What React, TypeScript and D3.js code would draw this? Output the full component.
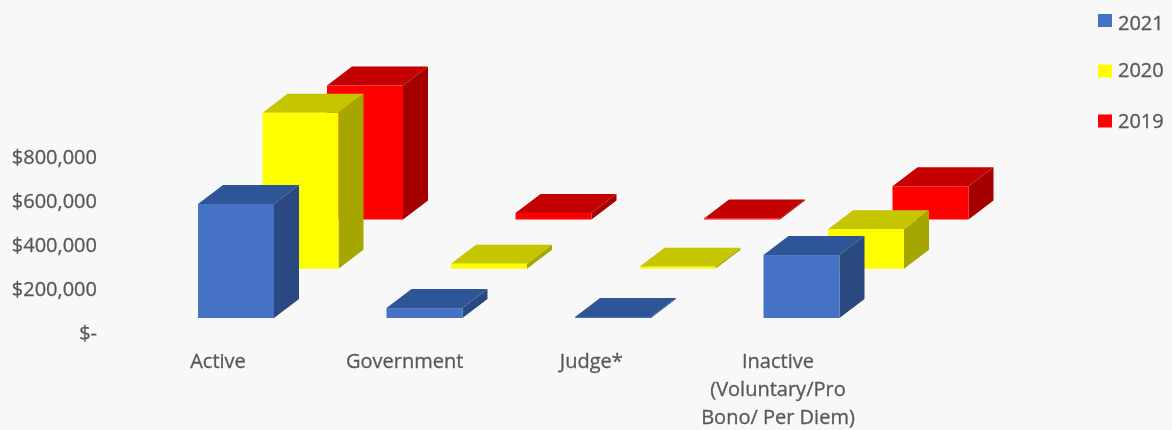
import React from "react";
import * as d3 from "d3";

const categories = ["Active", "Government", "Judge*", "Inactive"];
const categoryLabels = [["Active"], ["Government"], ["Judge*"], ["Inactive", "(Voluntary/Pro", "Bono/ Per Diem)"]];
const seriesNames = ["2019", "2020", "2021"];
const values2019 = [609000, 30000, 5000, 151000];
const values2020 = [709000, 23000, 9000, 180000];
const values2021 = [518000, 45000, 5000, 286000];
const seriesValues = [values2019, values2020, values2021];
const faceColors: Record<string, { front: string; top: string; side: string }> = {
  "2019": { front: "#ff0000", top: "#c40000", side: "#a40000" },
  "2020": { front: "#ffff00", top: "#c6c600", side: "#a6a600" },
  "2021": { front: "#4472c4", top: "#2f5597", side: "#2a4a80" },
};
const yTicks = [0, 200000, 400000, 600000, 800000];
const yTickLabels = ["$-", "$200,000", "$400,000", "$600,000", "$800,000"];
const legendOrder = ["2021", "2020", "2019"];
const legendCenters = [20.5, 71, 121];
const legendTextY = [23, 70, 121];

const W = 1172, H = 430;
const font = "'Open Sans', sans-serif";
const textColor = "#595959";
const fs = 20;

export default function App() {
  const band = d3.scaleBand<string>().domain(categories).range([141.75, 895.75]).paddingInner(0).paddingOuter(0);
  const barW = 76;
  const catX = (c: string) => (band(c) as number) + band.bandwidth() / 2 - barW / 2;
  const labelX = d3.scalePoint<string>().domain(categories).range([218, 778]);
  const h = d3.scaleLinear().domain([0, 800000]).range([0, 176]);
  const axisY = d3.scaleLinear().domain([0, 800000]).range([333, 157]);
  const offX = d3.scalePoint<string>().domain(seriesNames).range([129, 0]);
  const baseY = d3.scalePoint<string>().domain(seriesNames).range([219.5, 318]);
  const dx = 25, dy = -19;

  const pts = (p: [number, number][]) => p.map((q) => q.join(",")).join(" ");
  const textProps = { fontFamily: font, fontSize: fs, fill: textColor, stroke: textColor, strokeWidth: 0.3 };

  return (
    <svg width={W} height={H} viewBox={`0 0 ${W} ${H}`} style={{ position: "absolute", left: 0, top: 0, display: "block" }}>
      <defs>
        <filter id="soft" x="-5%" y="-5%" width="110%" height="110%">
          <feGaussianBlur stdDeviation="0.55" />
        </filter>
      </defs>
      <rect width={W} height={H} fill="#f8f8f8" />
      <g filter="url(#soft)">
        {seriesNames.map((s, si) =>
          categories.map((c, ci) => {
            const x = catX(c) + (offX(s) as number);
            const b = baseY(s) as number;
            const t = b - h(seriesValues[si][ci]);
            const col = faceColors[s];
            return (
              <g key={s + c}>
                <polygon
                  points={pts([[x + barW, t], [x + barW + dx, t + dy], [x + barW + dx, b + dy], [x + barW, b]])}
                  fill={col.side}
                />
                <polygon
                  points={pts([[x, t], [x + dx, t + dy], [x + barW + dx, t + dy], [x + barW, t]])}
                  fill={col.top}
                />
                <rect x={x} y={t} width={barW} height={b - t} fill={col.front} />
              </g>
            );
          })
        )}
        {yTicks.map((v, i) => (
          <text key={v} x={97} y={axisY(v)} dy="0.36em" textAnchor="end" {...textProps}>
            {yTickLabels[i]}
          </text>
        ))}
        {categories.map((c, i) => (
          <text key={c} textAnchor="middle" {...textProps}>
            {categoryLabels[i].map((line, j) => (
              <tspan key={line} x={labelX(c)} y={368 + j * 28}>
                {line}
              </tspan>
            ))}
          </text>
        ))}
        {legendOrder.map((s, i) => (
          <g key={s}>
            <rect x={1098} y={legendCenters[i] - 6.5} width={14} height={13} fill={faceColors[s].front} />
            <text x={1118} y={legendTextY[i]} dy="0.36em" {...textProps}>
              {s}
            </text>
          </g>
        ))}
      </g>
    </svg>
  );
}
